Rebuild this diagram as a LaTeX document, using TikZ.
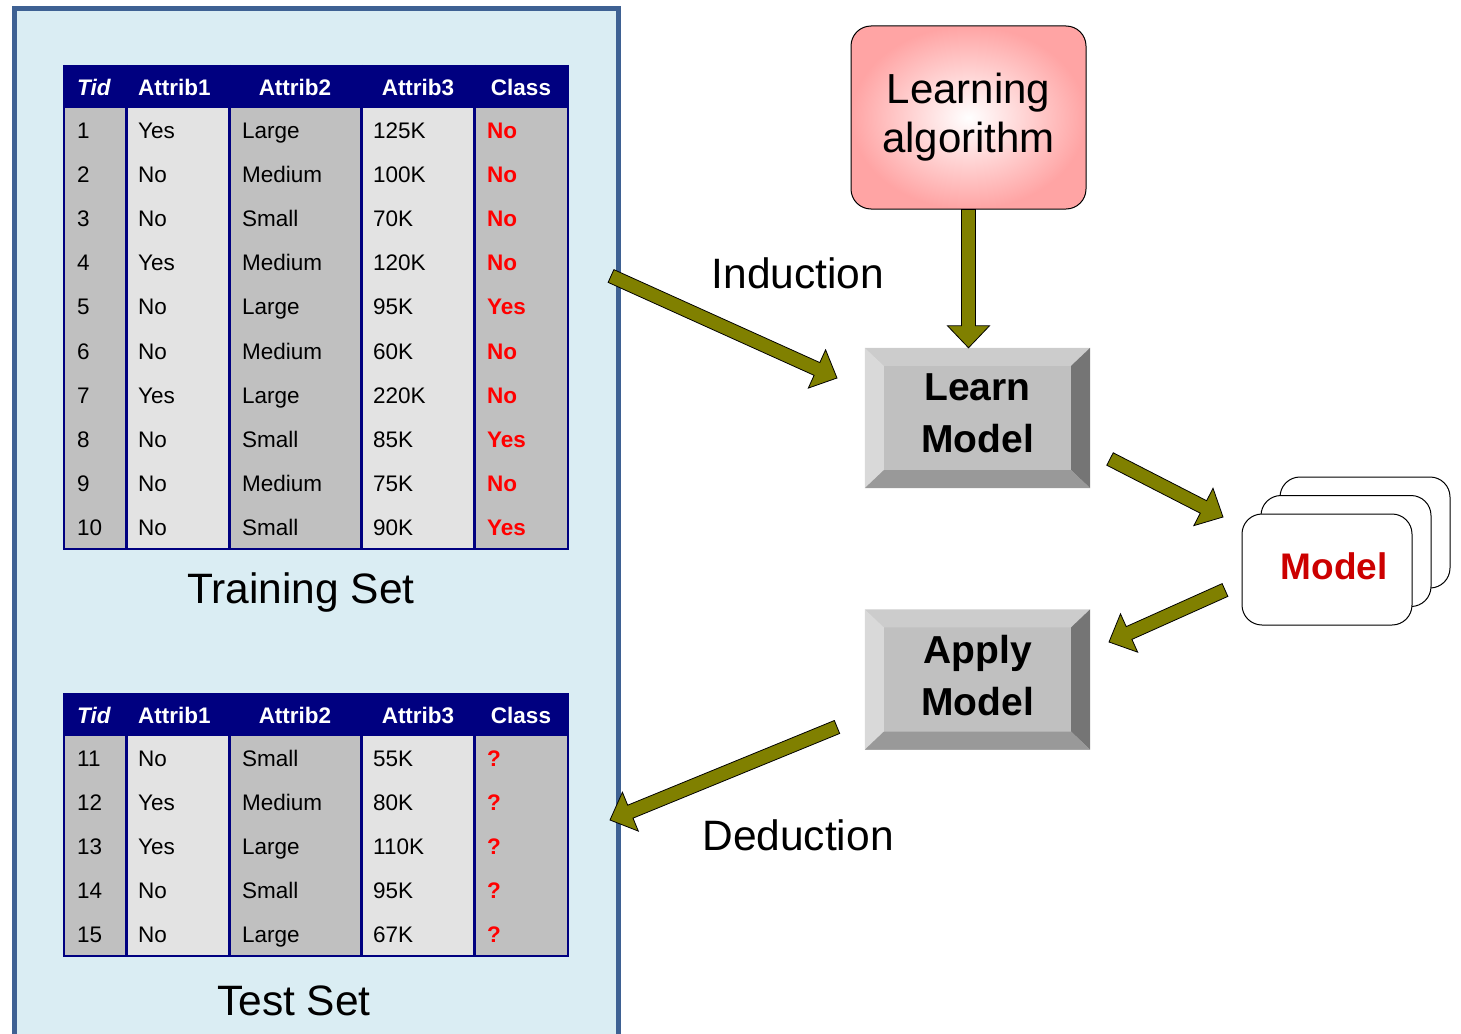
\documentclass[tikz,border=0pt]{standalone}
\usepackage{fontspec}
\setmainfont{Liberation Sans}
\usetikzlibrary{positioning,calc}

\definecolor{panelfill}{HTML}{DAEDF3}
\definecolor{paneledge}{HTML}{3E6193}
\definecolor{navy}{HTML}{000080}
\definecolor{colgray}{HTML}{C0C0C0}
\definecolor{collight}{HTML}{E3E3E3}
\definecolor{arrowolive}{HTML}{808000}
\definecolor{algopink}{HTML}{FFA4A4}
\definecolor{modelred}{HTML}{CC0000}

\tikzset{
  panel/.style={draw=paneledge, line width=5pt, fill=panelfill},
  head/.style={anchor=base, inner sep=0pt, text=white, font=\fontsize{22.5}{27}\selectfont\bfseries},
  cell/.style={anchor=base west, inner sep=0pt, font=\fontsize{22.5}{27}\selectfont},
  clsred/.style={text=red, font=\fontsize{22.5}{27}\selectfont\bfseries},
  biglbl/.style={inner sep=0pt, font=\fontsize{42.5}{50}\selectfont},
  algobox/.style={draw=black, line width=1pt, rounded corners=20pt, inner color=white, outer color=algopink,
    minimum width=235pt, minimum height=183pt, align=center, font=\fontsize{42}{49}\selectfont},
  button/.style={fill=colgray, minimum width=225pt, minimum height=140pt, inner sep=0pt, align=center,
    text depth=9pt, font=\fontsize{39}{52}\selectfont\bfseries},
  card/.style={draw=black, line width=1pt, fill=white, rounded corners=20pt, minimum width=170pt, minimum height=111pt},
  fatarrow/.style={fill=arrowolive, draw=black, line width=0.8pt, line join=miter}
}

\newcommand\fatarrow[2]{%
  \coordinate (fa-c) at ($(#2)!22pt!(#1)$);
  \filldraw[fatarrow] ($(#1)!7pt!-90:(#2)$) -- ($(fa-c)!7pt!90:(#1)$) -- ($(fa-c)!21pt!90:(#1)$) -- (#2)
    -- ($(fa-c)!21pt!-90:(#1)$) -- ($(fa-c)!7pt!-90:(#1)$) -- ($(#1)!7pt!90:(#2)$) -- cycle;}

\newcommand\bevel[1]{%
  \fill[fill=black!20] (#1.north west) -- (#1.north east) -- ($(#1.north east)+(-19,18)$) -- ($(#1.north west)+(19,18)$) -- cycle;
  \fill[fill=black!15] (#1.north west) -- ($(#1.north west)+(19,18)$) -- ($(#1.south west)+(19,-18)$) -- (#1.south west) -- cycle;
  \fill[fill=black!54] (#1.north east) -- ($(#1.north east)+(-19,18)$) -- ($(#1.south east)+(-19,-18)$) -- (#1.south east) -- cycle;
  \fill[fill=black!40] (#1.south west) -- ($(#1.south west)+(19,-18)$) -- ($(#1.south east)+(-19,-18)$) -- (#1.south east) -- cycle;}

\begin{document}
\begin{tikzpicture}[x=1pt,y=-1pt]
\useasboundingbox (0,0) rectangle (1461,1033);

\draw[panel] (14.5,9) rectangle (618.5,1050);

\foreach \t/\bt in {65/550,693/957}{
  \fill[colgray] (63,\t) rectangle (569,\bt);
  \fill[collight] (127,\t) rectangle (229,\bt);
  \fill[collight] (362,\t) rectangle (474,\bt);
  \fill[navy] (63,\t) rectangle (569,{\t+43});
  \foreach \x in {64.2,126.5,229.5,361.7,474.5,567.8}
    \draw[navy, line width=2.5pt] (\x,\t) -- (\x,\bt);
  \draw[navy, line width=2.5pt] (63,{\bt-1}) -- (569,{\bt-1});
}

\foreach \t [count=\k] in {65,693}{
  \node[head, anchor=base west, font=\fontsize{22.5}{27}\selectfont\bfseries\itshape] (h\k-0) at (77,{\t+30}) {Tid};
  \node[head, anchor=base west] (h\k-1) at (138,{\t+30}) {Attrib1};
  \node[head] (h\k-2) at (295,{\t+30}) {Attrib2};
  \node[head] (h\k-3) at (418,{\t+30}) {Attrib3};
  \node[head] (h\k-4) at (521,{\t+30}) {Class};
}

\foreach \tid/\ea/\eb/\ec/\cls [count=\r] in {1/Yes/Large/125K/No, 2/No/Medium/100K/No, 3/No/Small/70K/No,
    4/Yes/Medium/120K/No, 5/No/Large/95K/Yes, 6/No/Medium/60K/No, 7/Yes/Large/220K/No,
    8/No/Small/85K/Yes, 9/No/Medium/75K/No, 10/No/Small/90K/Yes}{
  \node[cell] (tr\r-0) at (77,{108+44.2*(\r-0.5)+8}) {\tid};
  \node[cell] (tr\r-1) at (138,{108+44.2*(\r-0.5)+8}) {\ea};
  \node[cell] (tr\r-2) at (242,{108+44.2*(\r-0.5)+8}) {\eb};
  \node[cell] (tr\r-3) at (373,{108+44.2*(\r-0.5)+8}) {\ec};
  \node[cell, clsred] (tr\r-4) at (487,{108+44.2*(\r-0.5)+8}) {\cls};
}

\foreach \tid/\ea/\eb/\ec [count=\r] in {11/No/Small/55K, 12/Yes/Medium/80K, 13/Yes/Large/110K,
    14/No/Small/95K, 15/No/Large/67K}{
  \node[cell] (te\r-0) at (77,{736+44.2*(\r-0.5)+8}) {\tid};
  \node[cell] (te\r-1) at (138,{736+44.2*(\r-0.5)+8}) {\ea};
  \node[cell] (te\r-2) at (242,{736+44.2*(\r-0.5)+8}) {\eb};
  \node[cell] (te\r-3) at (373,{736+44.2*(\r-0.5)+8}) {\ec};
  \node[cell, clsred] (te\r-4) at (487,{736+44.2*(\r-0.5)+8}) {?};
}

\node[biglbl, anchor=base, font=\fontsize{42.5}{50}\selectfont] (trainlbl) at (301,603) {Training Set};
\node[biglbl, anchor=base, font=\fontsize{42.5}{50}\selectfont] (testlbl) at (294,1015) {Test Set};

\node[algobox] (algo) at (968.5,117.5) {Learning\\algorithm};

\node[button] (learn) at (977.5,418) {Learn\\Model};
\bevel{learn}
\node[button] (apply) at (977.5,679.5) {Apply\\Model};
\bevel{apply}

\node[card] (card3) at (1365,532.5) {};
\node[card] (card2) at (1346,551) {};
\node[card, text=modelred, text depth=6pt, font=\fontsize{37}{44}\selectfont\bfseries] (model) at (1327,569.5) {\hspace*{14pt}Model};

\node[biglbl] (induct) at (798,273) {Induction};
\node[biglbl] (deduct) at (798,835) {Deduction};

\coordinate (alg-b) at (algo.south |- learn.north);
\coordinate (ind-a) at (611,276);
\coordinate (ind-b) at (837,378);
\coordinate (lm-a) at (1110,459);
\coordinate (lm-b) at (1223,517);
\coordinate (ma-a) at (1225,590);
\coordinate (ma-b) at (1109,642);
\coordinate (ded-a) at (837,727);
\coordinate (ded-b) at (610,820);

\fatarrow{algo.south}{alg-b}
\fatarrow{ind-a}{ind-b}
\fatarrow{lm-a}{lm-b}
\fatarrow{ma-a}{ma-b}
\fatarrow{ded-a}{ded-b}

\end{tikzpicture}
\end{document}
